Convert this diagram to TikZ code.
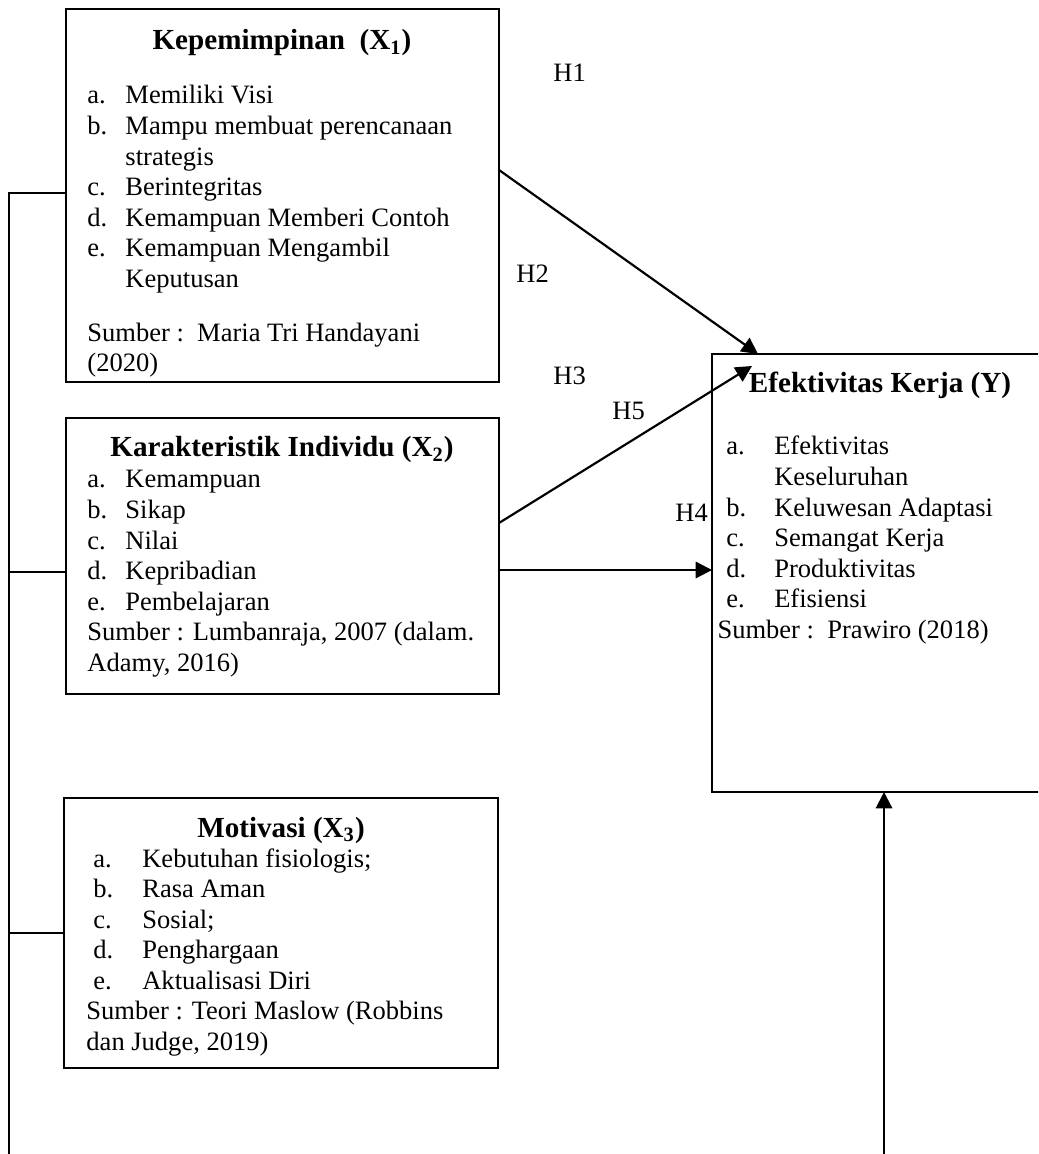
\documentclass[tikz,border=0pt]{standalone}
\usepackage{fontspec}
\setmainfont{Liberation Serif}
\usetikzlibrary{arrows.meta}
\usetikzlibrary{calc}
\usetikzlibrary{positioning}

\begin{document}
\begin{tikzpicture}[x=0.46pt, y=-0.46pt, font=\fontsize{12.2pt}{14.05pt}\selectfont,
	kotak/.style={draw, line width=1.3pt, inner sep=0pt, outer sep=0pt, anchor=north west},
	isi/.style={anchor=base west, inner sep=0pt},
	judul/.style={anchor=base, inner sep=0pt, font=\fontsize{13.4pt}{15pt}\selectfont\bfseries},
	hip/.style={anchor=base west, inner sep=0pt},
	panah/.style={line width=1pt, -{Triangle[length=7.5pt, width=7.5pt]}},
	garis/.style={line width=1pt}]

	\useasboundingbox (0,0) rectangle (1038,1154);
	\clip (0,0) rectangle (1038,1154);

	%box X1

	\node[kotak, minimum width=433*0.46pt, minimum height=373*0.46pt] (x1) at (66,9) {};
	\node[judul] (jx1) at (282,50) {Kepemimpinan\ \ (X\textsubscript{1})};
	\node[isi] (lx1) at (87,104) {\begin{tabular}[t]{@{}p{17.5pt}@{}l@{}}
		a. & Memiliki Visi\\
		b. & Mampu membuat perencanaan\\
		   & strategis\\
		c. & Berintegritas\\
		d. & Kemampuan Memberi Contoh\\
		e. & Kemampuan Mengambil\\
		   & Keputusan\\[10.8pt]
		\multicolumn{2}{@{}l@{}}{Sumber :\ \ Maria Tri Handayani}\\
		\multicolumn{2}{@{}l@{}}{(2020)}
	\end{tabular}};

	%box X2

	\node[kotak, minimum width=433*0.46pt, minimum height=276*0.46pt] (x2) at (66,418) {};
	\node[judul] (jx2) at (282,457) {Karakteristik Individu (X\textsubscript{2})};
	\node[isi] (lx2) at (87,488) {\begin{tabular}[t]{@{}p{17.5pt}@{}l@{}}
		a. & Kemampuan\\
		b. & Sikap\\
		c. & Nilai\\
		d. & Kepribadian\\
		e. & Pembelajaran\\
		\multicolumn{2}{@{}l@{}}{Sumber : Lumbanraja, 2007 (dalam.}\\
		\multicolumn{2}{@{}l@{}}{Adamy, 2016)}
	\end{tabular}};

	%box X3

	\node[kotak, minimum width=434*0.46pt, minimum height=270*0.46pt] (x3) at (64,798) {};
	\node[judul] (jx3) at (281,837) {Motivasi (X\textsubscript{3})};
	\node[isi] (lx3) at (93,867) {\begin{tabular}[t]{@{}p{22.5pt}@{}l@{}}
		a. & Kebutuhan fisiologis;\\
		b. & Rasa Aman\\
		c. & Sosial;\\
		d. & Penghargaan\\
		e. & Aktualisasi Diri\\
		\multicolumn{2}{@{}l@{}}{\hspace*{-3.2pt}Sumber : Teori Maslow (Robbins}\\
		\multicolumn{2}{@{}l@{}}{\hspace*{-3.2pt}dan Judge, 2019)}
	\end{tabular}};

	%box Y

	\node[kotak, minimum width=344*0.46pt, minimum height=438*0.46pt] (y) at (712,354) {};
	\node[judul] (jy) at (880,393) {Efektivitas Kerja (Y)};
	\node[isi] (ly) at (726,455) {\begin{tabular}[t]{@{}p{22pt}@{}l@{}}
		a. & Efektivitas\\
		   & Keseluruhan\\
		b. & Keluwesan Adaptasi\\
		c. & Semangat Kerja\\
		d. & Produktivitas\\
		e. & Efisiensi\\
		\multicolumn{2}{@{}l@{}}{\hspace*{-4.1pt}Sumber :\ \ Prawiro (2018)}
	\end{tabular}};

	%hipotesis

	\node[hip] (h1) at (553,82) {H1};
	\node[hip] (h2) at (516,283) {H2};
	\node[hip] (h3) at (553,385) {H3};
	\node[hip] (h5) at (612,420) {H5};
	\node[hip] (h4) at (675,522) {H4};

	%panah

	\coordinate (x1o) at ($(x1.north east)+(0,161)$);
	\coordinate (yt) at ($(y.north west)+(46,0)$);
	\coordinate (x2o) at ($(x2.north east)+(0,105)$);
	\coordinate (yi) at ($(y.north west)+(40,12)$);
	\coordinate (x2h) at ($(x2.north east)+(0,152)$);
	\coordinate (yb) at (y.south |- 0,1154);
	\draw[panah] (x1o) -- (yt);
	\draw[panah] (x2o) -- (yi);
	\draw[panah] (x2h) -- (x2h -| y.west);
	\draw[panah] (yb) -- (y.south);

	%garis kiri

	\coordinate (rel) at (9,1154);
	\draw[garis] ($(x1.north west)+(0,184)$) -| (rel);
	\draw[garis] ($(x2.north west)+(0,154)$) -- +(-57,0);
	\draw[garis] (x3.west) -- (x3.west -| rel);

\end{tikzpicture}
\end{document}
